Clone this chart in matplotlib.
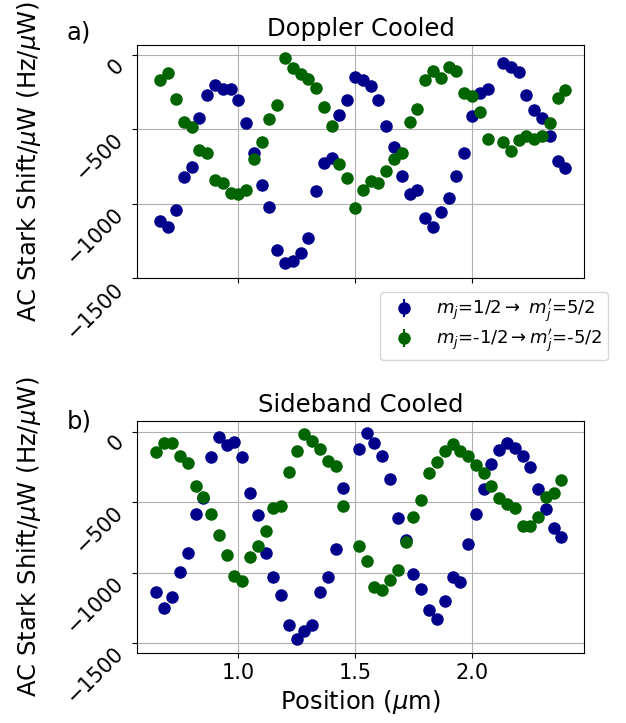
import numpy as np
import matplotlib
matplotlib.use("Agg")
import matplotlib.pyplot as plt

# Positions (um) of the scan points
pos_doppler = [0.667, 0.700, 0.733, 0.767, 0.800, 0.833, 0.867, 0.900, 0.933, 0.967,
               1.000, 1.033, 1.067, 1.100, 1.133, 1.167, 1.200, 1.233, 1.267, 1.300,
               1.333, 1.367, 1.400, 1.433, 1.467, 1.500, 1.533, 1.567, 1.600, 1.633,
               1.667, 1.700, 1.733, 1.767, 1.800, 1.833, 1.867, 1.900, 1.933, 1.967,
               2.000, 2.033, 2.067, 2.133, 2.167, 2.200, 2.233, 2.267, 2.300, 2.333,
               2.367, 2.400]
pos_sideband = [0.650, 0.683, 0.717, 0.750, 0.783, 0.817, 0.850, 0.883, 0.917, 0.950,
                0.983, 1.017, 1.050, 1.083, 1.117, 1.150, 1.183, 1.217, 1.250, 1.283,
                1.317, 1.350, 1.383, 1.417, 1.450, 1.517, 1.550, 1.583, 1.617, 1.650,
                1.683, 1.717, 1.750, 1.783, 1.817, 1.850, 1.883, 1.917, 1.950, 1.983,
                2.017, 2.050, 2.083, 2.117, 2.150, 2.183, 2.217, 2.250, 2.283, 2.317,
                2.350, 2.383]

# AC Stark shift (Hz/uW), Doppler cooled
dop_up = [-1116, -1152, -1044, -819, -752, -420, -269, -202, -231, -231,
          -305, -460, -656, -873, -1024, -1309, -1399, -1381, -1331, -1228,
          -914, -725, -691, -406, -305, -150, -168, -209, -303, -478,
          -617, -810, -932, -909, -1093, -1152, -1055, -959, -815, -656,
          -411, -254, -227, -52, -83, -114, -269, -370, -422, -546,
          -712, -761]
dop_down = [-168, -123, -296, -449, -485, -635, -658, -837, -858, -927,
            -936, -905, -696, -584, -427, -339, -18, -90, -126, -164,
            -222, -350, -474, -730, -828, -1026, -909, -846, -860, -777,
            -700, -656, -451, -366, -171, -106, -155, -79, -108, -254,
            -276, -382, -561, -584, -642, -572, -546, -561, -541, -460,
            -292, -236]

# AC Stark shift (Hz/uW), sideband cooled
sb_up = [-1138, -1254, -1176, -997, -862, -583, -470, -182, -40, -94,
         -76, -177, -437, -593, -862, -1030, -1157, -1370, -1472, -1417,
         -1375, -1138, -1035, -831, -402, -123, -12, -83, -172, -335,
         -614, -768, -1009, -1115, -1264, -1327, -1205, -1032, -1068, -798,
         -586, -409, -229, -130, -83, -118, -172, -248, -409, -548,
         -685, -751]
sb_down = [-146, -83, -78, -172, -224, -385, -461, -583, -737, -876,
           -1023, -1058, -893, -810, -702, -543, -527, -283, -137, -19,
           -64, -125, -205, -241, -524, -815, -916, -1105, -1122, -1051,
           -983, -784, -607, -484, -291, -213, -137, -90, -137, -172,
           -236, -295, -383, -468, -515, -543, -668, -668, -607, -465,
           -437, -343]

err = 25
lab_up = r"$m_j$=1/2$\rightarrow$ $m_j'$=5/2"
lab_down = r"$m_j$=-1/2$\rightarrow$$m_j'$=-5/2"
ylab = r"AC Stark Shift/$\mu$W (Hz/$\mu$W)"

plt.rcParams['font.size'] = 17.5

fig = plt.figure(figsize=(6.26, 7.23), dpi=100)
ax1 = fig.add_axes([0.219, 0.615, 0.714, 0.323])
ax2 = fig.add_axes([0.219, 0.097, 0.714, 0.321], sharex=ax1)

ax1.errorbar(pos_doppler, dop_up, yerr=err, fmt='o', color='darkblue', ms=8, label=lab_up)
ax1.errorbar(pos_doppler, dop_down, yerr=err, fmt='o', color='darkgreen', ms=8, label=lab_down)
ax2.errorbar(pos_sideband, sb_up, yerr=err, fmt='o', color='darkblue', ms=8)
ax2.errorbar(pos_sideband, sb_down, yerr=err, fmt='o', color='darkgreen', ms=8)

ax1.set_title("Doppler Cooled", fontsize=17.5)
ax2.set_title("Sideband Cooled", fontsize=17.5)
ax1.set_ylim(-1500, 68)
ax2.set_ylim(-1571, 78)
ax1.set_xlim(0.567, 2.48)
for ax in (ax1, ax2):
    ax.set_yticks([0, -500, -1000, -1500])
    ax.set_xticks([1.0, 1.5, 2.0])
    ax.tick_params(labelsize=15)
    ax.tick_params(axis='y', labelrotation=45)
    for t in ax.get_yticklabels():
        t.set_verticalalignment('top')
    ax.grid(True, color='#b0b0b0')
    ax.set_ylabel(ylab)
    ax.yaxis.set_label_coords(-0.211, 0.5)
ax1.tick_params(axis='x', labelbottom=False)
ax2.set_xlabel(r"Position ($\mu$m)")

fig.text(0.107, 0.945, "a)")
fig.text(0.107, 0.408, "b)")

fig.legend(loc='upper right', bbox_to_anchor=(0.985, 0.608), fontsize=13,
           labelspacing=0.15, borderpad=0.3)

fig.savefig("out.png", dpi=100)
